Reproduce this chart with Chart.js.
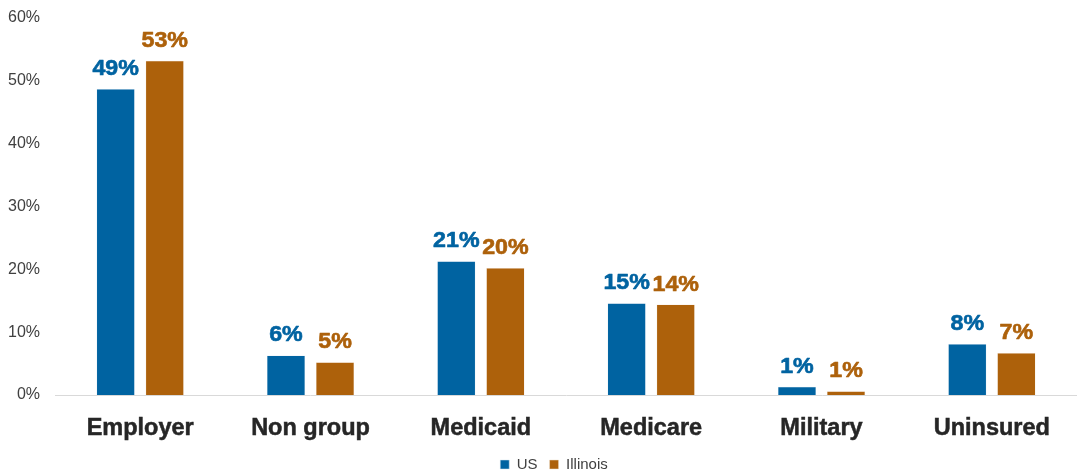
<!DOCTYPE html>
<html>
<head>
<meta charset="utf-8">
<script src="https://cdn.jsdelivr.net/npm/chart.js@4/dist/chart.umd.min.js"></script>
<style>
html,body{margin:0;padding:0;background:#fff;}
#wrap{width:1077px;height:472px;}
</style>
</head>
<body>
<div id="wrap"><canvas id="c" width="1077" height="472"></canvas></div>
<script>
const categories = ["Employer", "Non group", "Medicaid", "Medicare", "Military", "Uninsured"];
const usValues = [48.7, 6.3, 21.3, 14.6, 1.3, 8.1];
const ilValues = [53.2, 5.2, 20.2, 14.4, 0.6, 6.7];
const usLabels = ["49%", "6%", "21%", "15%", "1%", "8%"];
const ilLabels = ["53%", "5%", "20%", "14%", "1%", "7%"];
const yTicks = [0, 10, 20, 30, 40, 50, 60];

const BLUE = "#0063A1";
const ORANGE = "#AD610B";

const labelPlugin = {
  id: "barLabels",
  afterLayout(chart) {
    if (chart.legend) { chart.legend.left += 19; chart.legend.right += 19; }
  },
  afterDatasetsDraw(chart) {
    const ctx = chart.ctx;
    chart.data.datasets.forEach((ds, di) => {
      const meta = chart.getDatasetMeta(di);
      meta.data.forEach((el, i) => {
        ctx.save();
        ctx.translate(el.x, el.y - 14);
        ctx.scale(1.08, 1);
        ctx.font = "bold 21.5px 'Liberation Sans', Arial, sans-serif";
        ctx.textAlign = "center";
        ctx.textBaseline = "alphabetic";
        ctx.fillStyle = ds.backgroundColor;
        ctx.strokeStyle = ds.backgroundColor;
        ctx.lineWidth = 0.6;
        ctx.lineJoin = "round";
        ctx.fillText(ds.valueLabels[i], 0, 0);
        ctx.strokeText(ds.valueLabels[i], 0, 0);
        ctx.restore();
      });
    });
  }
};

new Chart(document.getElementById("c"), {
  type: "bar",
  data: {
    labels: categories,
    datasets: [
      { label: "US", data: usValues, valueLabels: usLabels, backgroundColor: BLUE, borderColor: "#d6e4ef", borderWidth: 0.5 },
      { label: "Illinois", data: ilValues, valueLabels: ilLabels, backgroundColor: ORANGE, borderColor: "#efe0cf", borderWidth: 0.5 }
    ]
  },
  options: {
    responsive: false,
    animation: false,
    devicePixelRatio: 1,
    datasets: { bar: { categoryPercentage: 0.576, barPercentage: 0.78 } },
    layout: { padding: { left: -7, right: 0, top: 18, bottom: -10 } },
    plugins: {
      legend: {
        position: "bottom",
        labels: {
          boxWidth: 9, boxHeight: 9, padding: 12,
          color: "#404040",
          font: { family: "'Liberation Sans', Arial, sans-serif", size: 15 }
        }
      },
      tooltip: { enabled: false }
    },
    scales: {
      x: {
        grid: { display: false, drawTicks: false },
        border: { display: true, color: "#d9d9d9", width: 1 },
        afterFit(scale) { scale.height = 50; },
        ticks: {
          color: "#262626",
          padding: 19,
          textStrokeColor: "#262626",
          textStrokeWidth: 0.5,
          font: { family: "'Liberation Sans', Arial, sans-serif", size: 23.5, weight: "bold" }
        }
      },
      y: {
        min: 0, max: 60,
        grid: { display: false, drawTicks: false },
        border: { display: false },
        afterFit(scale) { scale.paddingTop = 0; scale.paddingBottom = 0; },
        afterBuildTicks(axis) { axis.ticks = yTicks.map(v => ({ value: v })); },
        ticks: {
          color: "#404040",
          padding: 15,
          font: { family: "'Liberation Sans', Arial, sans-serif", size: 16 },
          callback: v => v + "%"
        }
      }
    }
  },
  plugins: [labelPlugin]
});
</script>
</body>
</html>
